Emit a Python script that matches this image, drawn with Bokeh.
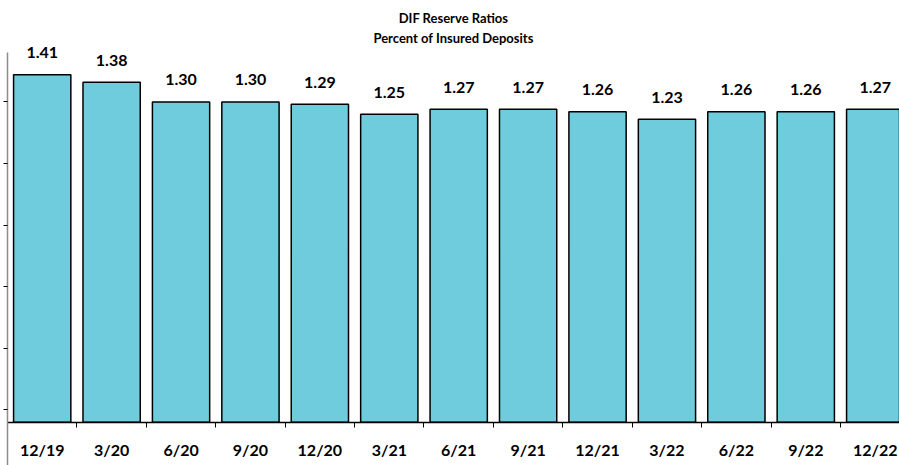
from bokeh.plotting import figure
from bokeh.models import FixedTicker, Title, ColumnDataSource, Range1d
from bokeh.embed import file_html
from bokeh.resources import INLINE
from bokeh.core.properties import value

categories = ["12/19", "3/20", "6/20", "9/20", "12/20", "3/21", "6/21", "9/21",
              "12/21", "3/22", "6/22", "9/22", "12/22"]
ratios = [1.41, 1.38, 1.30, 1.30, 1.29, 1.25, 1.27, 1.27, 1.26, 1.23, 1.26, 1.26, 1.27]
y_ticks = [0.05, 0.30, 0.55, 0.80, 1.05, 1.30]
title_main = "DIF Reserve Ratios"
title_sub = "Percent of Insured Deposits"

xs = list(range(len(categories)))
labels = ["%.2f" % v for v in ratios]
src = ColumnDataSource(dict(x=xs, top=ratios, label=labels))

FONT = "Lato"
y_start, y_end = -0.176, 1.529

p = figure(width=899, height=465, output_backend="svg", toolbar_location=None,
           x_range=Range1d(-0.5, 12.35), y_range=Range1d(y_start, y_end),
           min_border_left=7, min_border_right=0, min_border_bottom=0, min_border_top=45)
p.outline_line_color = None
p.xgrid.grid_line_color = None
p.ygrid.grid_line_color = None
p.background_fill_color = "white"
p.border_fill_color = "white"

p.add_layout(Title(text=title_sub, align="center", text_font_size="13px", text_font=FONT,
                   text_font_style="bold", text_color="black", standoff=0), "above")
p.add_layout(Title(text=title_main, align="center", text_font_size="13px", text_font=FONT,
                   text_font_style="bold", text_color="black", standoff=4), "above")

p.vbar(x="x", top="top", bottom=0, width=0.825, source=src,
       fill_color="#6ECCDC", line_color="black", line_width=1.5)
p.text(x="x", y="top", text="label", source=src, text_align="center",
       text_baseline="alphabetic", y_offset=-22, text_font=value(FONT),
       text_font_style="bold", text_font_size="16px", text_color="black")

# x axis at zero
xa = p.xaxis[0]
xa.fixed_location = 0
xa.ticker = FixedTicker(ticks=xs, minor_ticks=[i + 0.5 for i in range(-1, len(categories))])
xa.major_label_overrides = {i: c for i, c in enumerate(categories)}
xa.axis_line_color = "black"
xa.axis_line_width = 1.5
xa.major_tick_line_color = None
xa.major_tick_out = 0
xa.major_tick_in = 0
xa.minor_tick_line_color = "black"
xa.minor_tick_out = 5
xa.minor_tick_in = 0
xa.major_label_standoff = 13
xa.major_label_text_font = FONT
xa.major_label_text_font_style = "bold"
xa.major_label_text_font_size = "16px"
xa.major_label_text_color = "black"

ya = p.yaxis[0]
ya.ticker = FixedTicker(ticks=y_ticks)
ya.bounds = (y_start, 1.5)
ya.axis_line_color = "#8c8c8c"
ya.axis_line_width = 1.5
ya.major_tick_line_color = "black"
ya.major_tick_out = 4
ya.major_tick_in = 0
ya.minor_tick_line_color = None
ya.major_label_overrides = {t: "" for t in y_ticks}
ya.major_label_standoff = 0

open("out.html", "w").write(file_html(p, INLINE))
